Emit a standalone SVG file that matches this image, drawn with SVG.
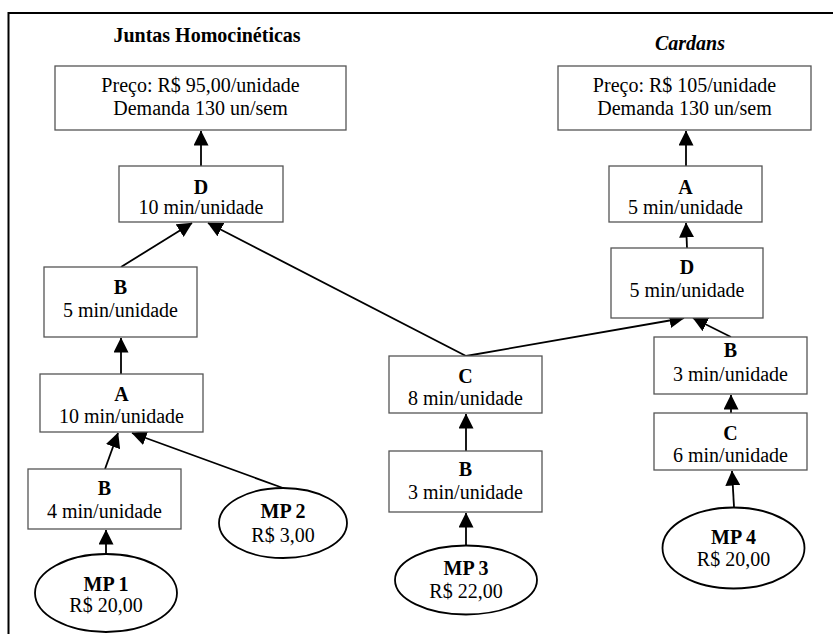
<svg xmlns="http://www.w3.org/2000/svg" width="833" height="634" viewBox="0 0 833 634">
<style>
.box{fill:#fff;stroke:#555;stroke-width:1.3}
.ell{fill:#fff;stroke:#000;stroke-width:1.8}
.t{font-family:"Liberation Serif","Times New Roman",serif;font-size:20px;fill:#000;text-anchor:middle}
.b{font-weight:bold}
.c{stroke:#000;stroke-width:1.8;fill:none;marker-end:url(#ah)}
</style>
<defs>
<marker id="ah" markerUnits="userSpaceOnUse" markerWidth="15" markerHeight="15" viewBox="0 0 15 15" refX="14.5" refY="7.5" orient="auto">
<path d="M0,0 L15,7.5 L0,15 z" fill="#000"/>
</marker>
</defs>
<rect width="833" height="634" fill="#fff"/>
<path d="M8.5,634 V13 H833" fill="none" stroke="#000" stroke-width="2"/>
<text class="t b" x="207" y="42">Juntas Homocinéticas</text>
<text class="t b" x="690" y="50" font-style="italic">Cardans</text>

<g id="connectors">
<line class="c" x1="201" y1="166" x2="201" y2="131"/>
<line class="c" x1="121" y1="267" x2="192" y2="223"/>
<line class="c" x1="466" y1="356" x2="208" y2="223"/>
<line class="c" x1="121" y1="374" x2="121" y2="338"/>
<line class="c" x1="105" y1="469" x2="118" y2="433"/>
<line class="c" x1="283" y1="488" x2="132" y2="433"/>
<line class="c" x1="106" y1="554" x2="106" y2="530"/>
<line class="c" x1="686" y1="166" x2="686" y2="131"/>
<line class="c" x1="687" y1="248" x2="686" y2="223"/>
<line class="c" x1="466" y1="356" x2="684" y2="318"/>
<line class="c" x1="731" y1="337" x2="693" y2="318"/>
<line class="c" x1="466" y1="451" x2="466" y2="414"/>
<line class="c" x1="466" y1="546" x2="466" y2="513"/>
<line class="c" x1="731" y1="413" x2="731" y2="395"/>
<line class="c" x1="734" y1="507" x2="732" y2="471"/>
</g>

<g id="preco-jh">
<rect class="box" x="55" y="66" width="291" height="64"/>
<text class="t" x="200.5" y="92">Preço: R$ 95,00/unidade</text>
<text class="t" x="200.5" y="115">Demanda 130 un/sem</text>
</g>
<g id="jh-d">
<rect class="box" x="119" y="166" width="164" height="56"/>
<text class="t b" x="201" y="194">D</text>
<text class="t" x="201" y="214">10 min/unidade</text>
</g>
<g id="jh-b5">
<rect class="box" x="44" y="267" width="153" height="70"/>
<text class="t b" x="120.5" y="294">B</text>
<text class="t" x="120.5" y="317">5 min/unidade</text>
</g>
<g id="jh-a">
<rect class="box" x="40" y="374" width="163" height="58"/>
<text class="t b" x="121.5" y="401">A</text>
<text class="t" x="121.5" y="423">10 min/unidade</text>
</g>
<g id="jh-b4">
<rect class="box" x="28" y="469" width="153" height="60"/>
<text class="t b" x="104.5" y="495">B</text>
<text class="t" x="104.5" y="518">4 min/unidade</text>
</g>
<g id="mp1">
<ellipse class="ell" cx="106" cy="593" rx="71" ry="39"/>
<text class="t b" x="106" y="591">MP 1</text>
<text class="t" x="106" y="612">R$ 20,00</text>
</g>
<g id="mp2">
<ellipse class="ell" cx="283" cy="523" rx="64" ry="35"/>
<text class="t b" x="283" y="518">MP 2</text>
<text class="t" x="283" y="542">R$ 3,00</text>
</g>

<g id="preco-cd">
<rect class="box" x="558" y="66" width="253" height="64"/>
<text class="t" x="684.5" y="92">Preço: R$ 105/unidade</text>
<text class="t" x="684.5" y="115">Demanda 130 un/sem</text>
</g>
<g id="cd-a">
<rect class="box" x="609" y="166" width="153" height="56"/>
<text class="t b" x="685.5" y="194">A</text>
<text class="t" x="685.5" y="214">5 min/unidade</text>
</g>
<g id="cd-d">
<rect class="box" x="611" y="248" width="152" height="70"/>
<text class="t b" x="687" y="274">D</text>
<text class="t" x="687" y="297">5 min/unidade</text>
</g>
<g id="cd-b">
<rect class="box" x="654" y="337" width="153" height="57"/>
<text class="t b" x="730.5" y="357">B</text>
<text class="t" x="730.5" y="381">3 min/unidade</text>
</g>
<g id="cd-c">
<rect class="box" x="654" y="413" width="153" height="57"/>
<text class="t b" x="730.5" y="440">C</text>
<text class="t" x="730.5" y="462">6 min/unidade</text>
</g>
<g id="mp4">
<ellipse class="ell" cx="733.5" cy="548" rx="71" ry="40.5"/>
<text class="t b" x="733.5" y="544">MP 4</text>
<text class="t" x="733.5" y="566">R$ 20,00</text>
</g>

<g id="mid-c">
<rect class="box" x="389" y="356" width="153" height="57"/>
<text class="t b" x="465.5" y="383">C</text>
<text class="t" x="465.5" y="405">8 min/unidade</text>
</g>
<g id="mid-b">
<rect class="box" x="389" y="451" width="153" height="61"/>
<text class="t b" x="465.5" y="476">B</text>
<text class="t" x="465.5" y="499">3 min/unidade</text>
</g>
<g id="mp3">
<ellipse class="ell" cx="466" cy="580" rx="71" ry="34.5"/>
<text class="t b" x="466" y="575">MP 3</text>
<text class="t" x="466" y="598">R$ 22,00</text>
</g>
</svg>
